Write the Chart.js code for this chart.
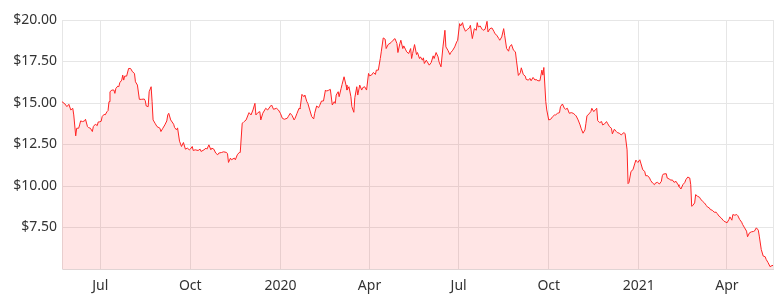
<!DOCTYPE html>
<html>
<head>
<meta charset="utf-8">
<script src="https://cdn.jsdelivr.net/npm/chart.js@4.4.1/dist/chart.umd.min.js"></script>
<style>
  html, body { margin: 0; padding: 0; background: #fff; }
  #wrap { width: 782px; height: 303px; position: relative; }
</style>
</head>
<body>
<div id="wrap"><canvas id="priceChart"></canvas></div>
<script>
// daily close
const dates = [
  '2019-05-23','2019-05-26','2019-05-28','2019-05-30','2019-06-01','2019-06-03','2019-06-04','2019-06-06','2019-06-07','2019-06-09',
  '2019-06-10','2019-06-11','2019-06-13','2019-06-15','2019-06-16','2019-06-18','2019-06-19','2019-06-21','2019-06-23','2019-06-24',
  '2019-06-26','2019-06-28','2019-06-29','2019-06-30','2019-07-02','2019-07-03','2019-07-05','2019-07-06','2019-07-08','2019-07-09',
  '2019-07-10','2019-07-11','2019-07-13','2019-07-15','2019-07-16','2019-07-17','2019-07-19','2019-07-20','2019-07-21','2019-07-23',
  '2019-07-24','2019-07-25','2019-07-26','2019-07-28','2019-07-30','2019-08-01','2019-08-03','2019-08-05','2019-08-06','2019-08-08',
  '2019-08-10','2019-08-12','2019-08-15','2019-08-16','2019-08-17','2019-08-19','2019-08-20','2019-08-22','2019-08-23','2019-08-24',
  '2019-08-26','2019-08-28','2019-08-31','2019-09-01','2019-09-03','2019-09-05','2019-09-07','2019-09-08','2019-09-09','2019-09-11',
  '2019-09-14','2019-09-15','2019-09-17','2019-09-18','2019-09-20','2019-09-22','2019-09-24','2019-09-26','2019-09-28','2019-09-30',
  '2019-10-01','2019-10-03','2019-10-04','2019-10-06','2019-10-09','2019-10-11','2019-10-12','2019-10-15','2019-10-17','2019-10-18',
  '2019-10-20','2019-10-22','2019-10-23','2019-10-25','2019-10-27','2019-10-29','2019-10-30','2019-11-02','2019-11-04','2019-11-07',
  '2019-11-08','2019-11-09','2019-11-11','2019-11-12','2019-11-15','2019-11-16','2019-11-18','2019-11-20','2019-11-21','2019-11-23',
  '2019-11-24','2019-11-25','2019-11-27','2019-11-29','2019-11-30','2019-12-02','2019-12-04','2019-12-06','2019-12-07','2019-12-09',
  '2019-12-11','2019-12-12','2019-12-14','2019-12-16','2019-12-17','2019-12-19','2019-12-22','2019-12-23','2019-12-25','2019-12-28',
  '2019-12-30','2020-01-01','2020-01-03','2020-01-05','2020-01-08','2020-01-09','2020-01-11','2020-01-13','2020-01-15','2020-01-16',
  '2020-01-18','2020-01-20','2020-01-21','2020-01-23','2020-01-25','2020-01-26','2020-01-28','2020-01-29','2020-01-31','2020-02-02',
  '2020-02-04','2020-02-05','2020-02-07','2020-02-09','2020-02-10','2020-02-12','2020-02-14','2020-02-16','2020-02-17','2020-02-19',
  '2020-02-21','2020-02-23','2020-02-25','2020-02-26','2020-02-27','2020-02-29','2020-03-01','2020-03-03','2020-03-04','2020-03-06',
  '2020-03-08','2020-03-09','2020-03-11','2020-03-13','2020-03-14','2020-03-16','2020-03-17','2020-03-19','2020-03-20','2020-03-22',
  '2020-03-24','2020-03-25','2020-03-27','2020-03-29','2020-03-31','2020-04-01','2020-04-03','2020-04-05','2020-04-07','2020-04-08',
  '2020-04-10','2020-04-12','2020-04-13','2020-04-15','2020-04-17','2020-04-18','2020-04-20','2020-04-23','2020-04-25','2020-04-27',
  '2020-04-29','2020-04-30','2020-05-02','2020-05-03','2020-05-05','2020-05-06','2020-05-08','2020-05-09','2020-05-11','2020-05-13',
  '2020-05-14','2020-05-15','2020-05-17','2020-05-19','2020-05-20','2020-05-22','2020-05-23','2020-05-25','2020-05-26','2020-05-27',
  '2020-05-29','2020-05-30','2020-06-01','2020-06-03','2020-06-05','2020-06-06','2020-06-08','2020-06-10','2020-06-11','2020-06-13',
  '2020-06-15','2020-06-17','2020-06-18','2020-06-20','2020-06-22','2020-06-23','2020-06-25','2020-06-27','2020-06-29','2020-06-30',
  '2020-07-02','2020-07-03','2020-07-05','2020-07-06','2020-07-08','2020-07-10','2020-07-12','2020-07-13','2020-07-15','2020-07-17',
  '2020-07-19','2020-07-20','2020-07-21','2020-07-23','2020-07-25','2020-07-26','2020-07-28','2020-07-30','2020-07-31','2020-08-02',
  '2020-08-04','2020-08-06','2020-08-07','2020-08-09','2020-08-11','2020-08-12','2020-08-14','2020-08-16','2020-08-17','2020-08-19',
  '2020-08-21','2020-08-22','2020-08-24','2020-08-26','2020-08-28','2020-08-29','2020-08-31','2020-09-02','2020-09-03','2020-09-05',
  '2020-09-07','2020-09-08','2020-09-10','2020-09-12','2020-09-13','2020-09-15','2020-09-17','2020-09-18','2020-09-20','2020-09-22',
  '2020-09-24','2020-09-25','2020-09-26','2020-09-28','2020-09-29','2020-10-01','2020-10-03','2020-10-05','2020-10-07','2020-10-08',
  '2020-10-10','2020-10-12','2020-10-13','2020-10-15','2020-10-17','2020-10-18','2020-10-20','2020-10-22','2020-10-24','2020-10-26',
  '2020-10-28','2020-10-29','2020-10-31','2020-11-02','2020-11-03','2020-11-05','2020-11-07','2020-11-08','2020-11-09','2020-11-11',
  '2020-11-13','2020-11-14','2020-11-16','2020-11-18','2020-11-19','2020-11-20','2020-11-22','2020-11-24','2020-11-25','2020-11-27',
  '2020-11-29','2020-11-30','2020-12-02','2020-12-04','2020-12-05','2020-12-07','2020-12-09','2020-12-10','2020-12-12','2020-12-14',
  '2020-12-16','2020-12-17','2020-12-18','2020-12-20','2020-12-21','2020-12-22','2020-12-24','2020-12-26','2020-12-28','2020-12-29',
  '2020-12-30','2020-12-31','2021-01-02','2021-01-03','2021-01-05','2021-01-07','2021-01-08','2021-01-10','2021-01-12','2021-01-13',
  '2021-01-15','2021-01-17','2021-01-18','2021-01-20','2021-01-22','2021-01-24','2021-01-25','2021-01-26','2021-01-29','2021-01-30',
  '2021-02-01','2021-02-03','2021-02-04','2021-02-06','2021-02-08','2021-02-10','2021-02-11','2021-02-13','2021-02-15','2021-02-17',
  '2021-02-18','2021-02-20','2021-02-22','2021-02-23','2021-02-24','2021-02-25','2021-02-27','2021-02-28','2021-03-02','2021-03-04',
  '2021-03-05','2021-03-07','2021-03-09','2021-03-11','2021-03-12','2021-03-14','2021-03-15','2021-03-17','2021-03-19','2021-03-21',
  '2021-03-22','2021-03-24','2021-03-26','2021-03-28','2021-03-29','2021-03-31','2021-04-01','2021-04-03','2021-04-04','2021-04-06',
  '2021-04-07','2021-04-09','2021-04-11','2021-04-12','2021-04-14','2021-04-16','2021-04-17','2021-04-19','2021-04-21','2021-04-22',
  '2021-04-24','2021-04-26','2021-04-28','2021-04-29','2021-05-01','2021-05-03','2021-05-04','2021-05-06','2021-05-08','2021-05-10',
  '2021-05-11','2021-05-13','2021-05-15','2021-05-16','2021-05-18'
];

const prices = [
  15.08,14.94,14.78,14.92,14.58,14.68,14.28,13.02,13.48,13.48,
  13.68,13.92,13.88,13.92,14.02,13.58,13.52,13.48,13.28,13.58,
  13.72,13.64,13.86,13.86,13.90,14.18,14.32,14.28,14.48,14.54,
  15.08,15.68,15.78,15.78,15.58,15.88,16.02,15.98,16.22,16.38,
  16.68,16.38,16.62,16.62,17.08,17.08,16.88,16.78,16.28,16.08,
  15.22,15.22,15.24,15.14,14.82,14.78,15.68,15.98,15.08,13.98,
  13.78,13.58,13.48,13.28,13.48,13.68,13.92,14.28,14.38,13.98,
  13.72,13.52,13.38,13.50,12.70,12.38,12.62,12.22,12.28,12.18,
  12.22,12.38,12.14,12.18,12.14,12.22,12.08,12.18,12.28,12.22,
  12.48,12.18,12.28,12.22,11.98,11.88,11.98,12.02,12.06,12.02,
  11.94,11.42,11.68,11.58,11.68,11.58,11.88,12.02,12.02,13.78,
  13.82,13.88,13.98,14.28,14.42,14.28,14.58,14.98,14.28,14.42,
  14.48,13.98,14.38,14.58,14.68,14.58,14.82,14.88,14.62,14.68,
  14.58,14.38,14.08,14.02,14.08,14.18,14.38,14.24,13.98,14.08,
  14.38,14.68,14.64,15.52,15.38,15.48,15.08,14.98,14.58,14.18,
  14.04,14.38,14.82,14.72,14.84,15.12,15.12,15.78,15.72,15.76,
  15.82,14.88,15.08,14.98,15.48,15.68,15.38,15.88,16.12,16.58,
  16.08,15.78,15.98,15.38,14.78,14.44,15.32,15.98,15.48,16.08,
  15.78,15.92,15.98,15.78,16.78,16.64,16.68,16.84,16.72,16.98,
  16.98,17.68,18.08,18.92,18.84,18.28,18.52,18.64,18.78,18.88,
  18.58,18.04,18.58,18.78,18.28,18.44,18.20,18.08,17.98,18.28,
  17.68,17.98,18.52,17.92,18.04,17.68,17.78,17.58,17.72,17.38,
  17.58,17.48,17.28,17.44,17.84,17.68,18.04,17.78,17.48,17.18,
  18.38,19.38,18.38,18.18,17.92,18.04,18.18,18.38,18.68,18.78,
  19.78,19.64,19.84,19.58,19.32,19.44,19.52,19.68,18.88,19.48,
  19.38,19.84,19.58,19.64,19.44,19.38,19.44,19.92,19.28,19.48,
  19.52,19.32,19.18,19.08,18.88,18.78,18.98,19.48,19.08,18.28,
  18.12,18.38,18.52,18.18,18.08,17.58,16.66,16.82,17.12,16.72,
  16.62,16.42,16.38,16.48,16.34,16.54,16.38,16.42,16.34,16.34,
  16.98,16.68,17.14,15.08,14.58,13.98,14.02,14.18,14.28,14.28,
  14.38,14.42,14.78,14.94,14.68,14.62,14.68,14.38,14.42,14.38,
  14.28,14.22,13.98,13.68,13.48,13.18,13.38,13.78,14.22,14.34,
  14.48,14.68,14.48,14.62,14.68,13.94,13.82,13.88,13.68,13.74,
  13.88,13.78,13.58,13.48,13.14,13.42,13.28,13.22,13.18,13.08,
  13.18,13.22,13.14,12.18,10.14,10.22,10.88,10.98,11.38,11.56,
  11.48,11.42,11.58,11.38,10.98,10.88,10.62,10.62,10.48,10.34,
  10.18,10.08,10.18,10.22,10.12,10.28,10.62,10.72,10.74,10.48,
  10.42,10.34,10.38,10.22,10.28,10.08,9.98,9.82,10.08,10.22,
  10.38,10.54,10.48,10.08,8.78,8.82,8.98,9.48,9.38,9.32,
  9.22,9.08,8.98,8.82,8.74,8.68,8.58,8.54,8.42,8.42,
  8.34,8.18,8.08,7.94,7.88,7.82,7.78,7.98,8.14,7.94,
  8.28,8.24,8.28,8.22,7.98,7.82,7.68,7.48,7.28,6.94,
  7.18,7.24,7.26,7.28,7.48,7.34,6.98,6.18,5.78,5.74,
  5.58,5.38,5.14,5.18,5.22
];

// quarter ticks on the x axis
const tickDates = ['2019-07-01','2019-10-01','2020-01-01','2020-04-01','2020-07-01','2020-10-01','2021-01-01','2021-04-01'];
const tickLabels = ['Jul','Oct','2020','Apr','Jul','Oct','2021','Apr'];

const yMin = 5, yMax = 20, yStep = 2.5;

function dayNum(s) {
    const p = s.split('-');
    return Date.UTC(+p[0], +p[1] - 1, +p[2]) / 86400000;
}

document.addEventListener('DOMContentLoaded', function() {
    const ctx = document.getElementById('priceChart');
    const points = dates.map((d, i) => ({ x: dayNum(d), y: prices[i] }));
    const tickDays = tickDates.map(dayNum);
    const xMin = points[0].x;
    const xMax = points[points.length - 1].x;
    const font = { family: '"Noto Sans", sans-serif', size: 14 };

    new Chart(ctx, {
        type: 'line',
        data: {
            datasets: [{
                data: points,
                borderColor: 'rgb(255, 35, 35)',
                borderWidth: 1,
                backgroundColor: 'rgba(255, 0, 0, 0.1)',
                fill: 'start',
                pointRadius: 0,
                tension: 0
            }]
        },
        options: {
            responsive: true,
            maintainAspectRatio: false,
            animation: false,
            layout: { padding: { top: 20, right: 7, left: 0, bottom: 0 } },
            plugins: {
                legend: { display: false },
                tooltip: { enabled: false }
            },
            scales: {
                x: {
                    type: 'linear',
                    min: xMin,
                    max: xMax,
                    afterBuildTicks: function(scale) {
                        scale.ticks = [xMin].concat(tickDays, [xMax]).map(v => ({ value: v }));
                    },
                    afterFit: function(scale) { scale.height = 34; },
                    ticks: {
                        autoSkip: false,
                        maxRotation: 0,
                        padding: 9,
                        color: '#333',
                        font: font,
                        callback: function(value) {
                            const i = tickDays.indexOf(value);
                            return i >= 0 ? tickLabels[i] : '';
                        }
                    },
                    grid: { color: '#e6e6e6', drawTicks: false },
                    border: { color: '#e0d4d4' }
                },
                y: {
                    min: yMin,
                    max: yMax,
                    afterFit: function(scale) { scale.width = 62; },
                    ticks: {
                        stepSize: yStep,
                        padding: 5,
                        color: '#333',
                        font: font,
                        callback: function(value) {
                            return value <= yMin ? '' : '$' + value.toFixed(2);
                        }
                    },
                    grid: { color: '#e6e6e6', drawTicks: false },
                    border: { color: '#e6e6e6' }
                }
            }
        }
    });
});
</script>
</body>
</html>
